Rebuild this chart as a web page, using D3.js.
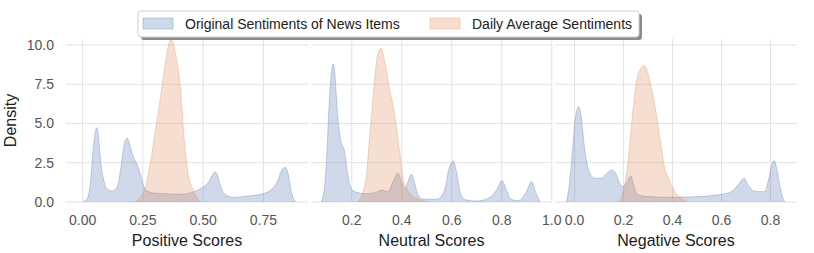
<!DOCTYPE html>
<html>
<head>
<meta charset="utf-8">
<script src="https://cdn.jsdelivr.net/npm/d3@7"></script>
<style>
  html, body { margin: 0; padding: 0; background: #fff; }
  svg { display: block; font-family: "Liberation Sans", Arial, sans-serif; }
</style>
</head>
<body>
<div id="chart"></div>
<script>
// KDE curves, [score, density]
const POS_ORIGINAL = [[0.0,0],[0.019,0.23],[0.033,1.3],[0.044,3.42],[0.053,4.48],[0.058,4.73],[0.065,4.27],[0.075,2.57],[0.086,1.51],[0.102,0.83],[0.123,0.7],[0.144,0.98],[0.158,2.14],[0.172,3.63],[0.185,4.06],[0.199,3.42],[0.213,2.78],[0.227,2.36],[0.241,1.72],[0.254,0.98],[0.268,0.7],[0.296,0.57],[0.35,0.53],[0.407,0.49],[0.462,0.66],[0.503,0.98],[0.524,1.3],[0.538,1.72],[0.549,1.93],[0.561,1.61],[0.573,0.98],[0.593,0.45],[0.628,0.3],[0.683,0.38],[0.739,0.49],[0.78,0.76],[0.808,1.3],[0.826,2.04],[0.84,2.21],[0.852,1.83],[0.863,0.87],[0.874,0.23],[0.884,0]];
const POS_DAILY = [[0.215,0],[0.254,0.66],[0.282,2.57],[0.303,4.69],[0.324,6.8],[0.344,8.94],[0.358,10.1],[0.368,10.38],[0.386,9.36],[0.407,7.0],[0.42,4.27],[0.434,2.14],[0.455,0.87],[0.476,0.23],[0.49,0]];
const NEU_ORIGINAL = [[0.079,0],[0.093,1.3],[0.102,3.63],[0.11,6.39],[0.119,8.3],[0.126,8.79],[0.133,8.09],[0.139,6.6],[0.146,5.12],[0.157,3.84],[0.17,3.31],[0.179,2.36],[0.189,1.3],[0.199,0.83],[0.219,0.62],[0.252,0.53],[0.292,0.59],[0.321,0.76],[0.345,0.66],[0.365,1.3],[0.385,1.83],[0.401,1.19],[0.412,0.83],[0.425,1.3],[0.439,1.76],[0.452,1.19],[0.465,0.45],[0.485,0.19],[0.52,0.17],[0.545,0.19],[0.573,0.87],[0.589,2.14],[0.606,2.61],[0.619,1.93],[0.633,0.66],[0.65,0.17],[0.693,0.06],[0.745,0.23],[0.779,0.76],[0.801,1.36],[0.819,0.76],[0.837,0.17],[0.866,0.08],[0.899,0.66],[0.919,1.3],[0.935,0.66],[0.953,0]];
const NEU_DAILY = [[0.225,0],[0.245,0.66],[0.259,1.72],[0.272,4.27],[0.286,6.8],[0.299,8.94],[0.309,9.68],[0.317,9.79],[0.325,9.47],[0.339,8.3],[0.353,7.02],[0.365,6.17],[0.379,4.69],[0.393,2.99],[0.405,1.51],[0.419,0.87],[0.439,0.45],[0.465,0.19],[0.493,0.05],[0.505,0]];
const NEG_ORIGINAL = [[-0.033,0],[-0.02,1.3],[-0.009,3.2],[0.003,5.33],[0.017,6.07],[0.028,5.33],[0.039,3.63],[0.052,2.36],[0.066,1.72],[0.084,1.51],[0.11,1.51],[0.132,1.83],[0.153,2.04],[0.171,1.72],[0.184,1.19],[0.198,0.98],[0.211,1.19],[0.23,1.66],[0.243,0.98],[0.256,0.49],[0.286,0.36],[0.4,0.3],[0.518,0.36],[0.6,0.49],[0.64,0.66],[0.667,1.08],[0.692,1.51],[0.708,1.08],[0.729,0.72],[0.756,0.66],[0.776,0.66],[0.79,1.3],[0.803,2.25],[0.814,2.63],[0.828,1.93],[0.84,0.87],[0.851,0.23],[0.86,0]];
const NEG_DAILY = [[0.178,0],[0.198,0.66],[0.211,1.72],[0.225,3.63],[0.239,5.97],[0.253,7.66],[0.27,8.51],[0.284,8.68],[0.299,8.2],[0.316,7.02],[0.332,5.75],[0.35,3.84],[0.368,2.14],[0.385,1.45],[0.409,0.66],[0.436,0.23],[0.463,0]];

const X_LABELS = ['Positive Scores', 'Neutral Scores', 'Negative Scores'];
const X_TICKS = [[0, 0.25, 0.5, 0.75], [0.2, 0.4, 0.6, 0.8, 1.0], [0, 0.2, 0.4, 0.6, 0.8]];
const X_TICK_FMT = ['.2f', '.1f', '.1f'];
const X_DOMAINS = [[-0.069, 0.935], [0.037, 1.001], [-0.080, 0.908]];
const Y_TICKS = [0, 2.5, 5, 7.5, 10];
const SERIES_NAMES = ['Original Sentiments of News Items', 'Daily Average Sentiments'];

const COLORS = ['#4c72b0', '#dd8452'];
const W = 814, H = 253;
const PANEL_X = [[66, 308], [311, 552], [555, 797]];
const TOP = 39, BOTTOM = 202;

const curves = [[POS_ORIGINAL, POS_DAILY], [NEU_ORIGINAL, NEU_DAILY], [NEG_ORIGINAL, NEG_DAILY]];

const svg = d3.select('#chart').append('svg').attr('width', W).attr('height', H);
const y = d3.scaleLinear().domain([0, 10.38]).range([BOTTOM, TOP]);

PANEL_X.forEach((px, i) => {
  const x = d3.scaleLinear().domain(X_DOMAINS[i]).range(px);
  const g = svg.append('g');

  // grid
  g.selectAll('.hgrid').data(Y_TICKS).join('line')
    .attr('x1', px[0]).attr('x2', px[1])
    .attr('y1', (d) => y(d)).attr('y2', (d) => y(d))
    .attr('stroke', '#e3e3e3').attr('stroke-width', 1);
  g.selectAll('.vgrid').data(X_TICKS[i]).join('line')
    .attr('x1', (d) => x(d)).attr('x2', (d) => x(d))
    .attr('y1', TOP).attr('y2', BOTTOM)
    .attr('stroke', '#e3e3e3').attr('stroke-width', 1);

  const clipId = 'clip' + i;
  svg.append('clipPath').attr('id', clipId).append('rect')
    .attr('x', px[0]).attr('y', TOP - 2).attr('width', px[1] - px[0]).attr('height', BOTTOM - TOP + 2);

  const area = d3.area().x((d) => x(d[0])).y0(y(0)).y1((d) => y(d[1])).curve(d3.curveMonotoneX);
  const line = d3.line().x((d) => x(d[0])).y((d) => y(d[1])).curve(d3.curveMonotoneX);

  curves[i].forEach((pts, s) => {
    g.append('path').datum(pts).attr('clip-path', `url(#${clipId})`)
      .attr('d', area).attr('fill', COLORS[s]).attr('fill-opacity', 0.27);
    g.append('path').datum(pts).attr('clip-path', `url(#${clipId})`)
      .attr('d', line).attr('fill', 'none').attr('stroke', COLORS[s])
      .attr('stroke-opacity', 0.3).attr('stroke-width', 1);
  });

  // x tick labels
  const fmt = d3.format(X_TICK_FMT[i]);
  g.selectAll('.xt').data(X_TICKS[i]).join('text')
    .attr('x', (d) => x(d)).attr('y', 220).attr('dy', '0.35em')
    .attr('text-anchor', 'middle').attr('font-size', '14px').attr('fill', '#555')
    .text((d) => fmt(d));

  g.append('text')
    .attr('x', (px[0] + px[1]) / 2).attr('y', 240).attr('dy', '0.35em')
    .attr('text-anchor', 'middle').attr('font-size', '16px').attr('fill', '#222')
    .text(X_LABELS[i]);
});

// y axis labels (shared)
svg.selectAll('.yt').data(Y_TICKS).join('text')
  .attr('x', 54).attr('y', (d) => y(d)).attr('dy', '0.35em')
  .attr('text-anchor', 'end').attr('font-size', '14px').attr('fill', '#555')
  .text((d) => d3.format('.1f')(d));

svg.append('text')
  .attr('transform', `translate(10,${(TOP + BOTTOM) / 2}) rotate(-90)`)
  .attr('dy', '0.35em').attr('text-anchor', 'middle')
  .attr('font-size', '16px').attr('fill', '#222')
  .text('Density');

// legend
const leg = svg.append('g');
leg.append('rect').attr('x', 141).attr('y', 14).attr('width', 501).attr('height', 26)
  .attr('rx', 3).attr('fill', '#8c8c8c');
leg.append('rect').attr('x', 138).attr('y', 11).attr('width', 501).attr('height', 26)
  .attr('rx', 3).attr('fill', '#fff').attr('stroke', '#cfcfcf');
const LEG_X = [143, 430];
SERIES_NAMES.forEach((name, s) => {
  leg.append('rect').attr('x', LEG_X[s]).attr('y', 18).attr('width', 30).attr('height', 11)
    .attr('fill', COLORS[s]).attr('fill-opacity', 0.27)
    .attr('stroke', COLORS[s]).attr('stroke-opacity', 0.3);
  leg.append('text').attr('x', LEG_X[s] + 42).attr('y', 24).attr('dy', '0.35em')
    .attr('font-size', '14px').attr('fill', '#222').text(name);
});
</script>
</body>
</html>
